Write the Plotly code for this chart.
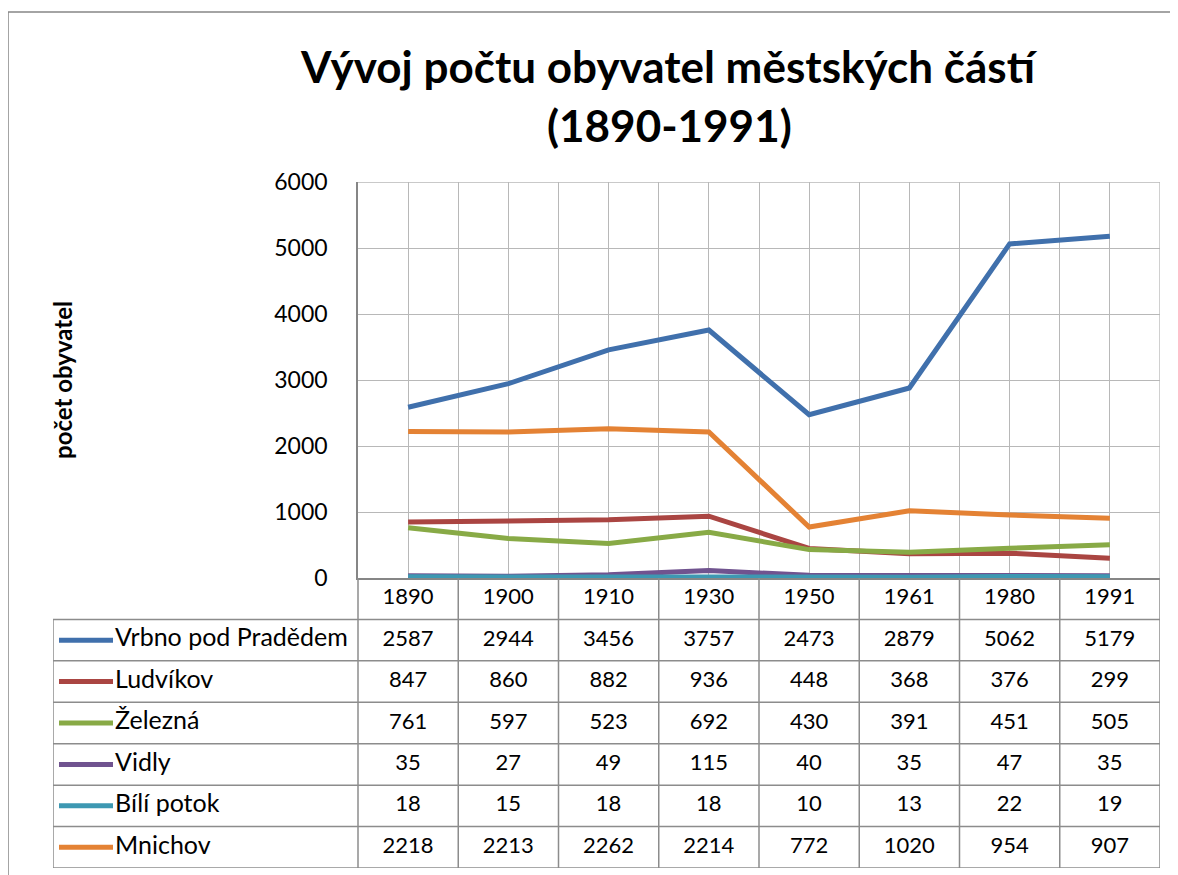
import plotly.graph_objects as go

# ---------------- data ----------------
years = ["1890", "1900", "1910", "1930", "1950", "1961", "1980", "1991"]
series_names = ["Vrbno pod Pradědem", "Ludvíkov", "Železná", "Vidly", "Bílí potok", "Mnichov"]
vrbno = [2587, 2944, 3456, 3757, 2473, 2879, 5062, 5179]
ludvikov = [847, 860, 882, 936, 448, 368, 376, 299]
zelezna = [761, 597, 523, 692, 430, 391, 451, 505]
vidly = [35, 27, 49, 115, 40, 35, 47, 35]
bili_potok = [18, 15, 18, 18, 10, 13, 22, 19]
mnichov = [2218, 2213, 2262, 2214, 772, 1020, 954, 907]
y_ticks = [0, 1000, 2000, 3000, 4000, 5000, 6000]

series_values = [vrbno, ludvikov, zelezna, vidly, bili_potok, mnichov]
colors = ["#4070AC", "#AA4542", "#88AA46", "#70538F", "#3D98B2", "#E48234"]

# ---------------- layout geometry (page pixels) ----------------
W, H = 1178, 875
OFF = 8  # page body margin
PLOT_L, PLOT_R, PLOT_T, PLOT_B = 358, 1160, 182, 578
TABLE_L, TABLE_B = 53, 868
FONT = "Lato"
GRID = "#B8B8B8"
AXIS = "#868686"
BORDER = "#8C8C8C"


def px(x):
    return (x - OFF) / W


def py(y):
    return 1 - (y - OFF) / H


n = len(years)
cat_w = (PLOT_R - PLOT_L) / n
x_idx = list(range(n))
table_left = -0.5 - (PLOT_L - TABLE_L) / cat_w
n_rows = len(series_names) + 1

fig = go.Figure()

# chart lines
for name, vals, col in zip(series_names, series_values, colors):
    fig.add_trace(go.Scatter(
        x=x_idx, y=vals, mode="lines", name=name,
        line=dict(color=col, width=5), xaxis="x", yaxis="y",
        showlegend=False, hoverinfo="skip"))

# plot-area top/right edges
fig.add_trace(go.Scatter(
    x=[-0.5, n - 0.5, n - 0.5], y=[6000, 6000, 0], mode="lines",
    line=dict(color=GRID, width=1.3), xaxis="x", yaxis="y",
    showlegend=False, hoverinfo="skip"))

# ---------------- data table ----------------
bx, by = [], []
for r in range(1, n_rows + 1):
    bx += [table_left, n - 0.5, None]
    by += [r, r, None]
bx += [table_left, table_left, None]
by += [1, n_rows, None]
for j in range(n + 1):
    bx += [-0.5 + j, -0.5 + j, None]
    by += [0, n_rows, None]
fig.add_trace(go.Scatter(
    x=bx, y=by, mode="lines", line=dict(color=BORDER, width=1.5),
    xaxis="x2", yaxis="y2", showlegend=False, hoverinfo="skip"))

# year header
fig.add_trace(go.Scatter(
    x=x_idx, y=[0.5] * n, text=years, mode="text",
    textfont=dict(family=FONT, size=22, color="black"),
    textposition="middle center", xaxis="x2", yaxis="y2",
    showlegend=False, hoverinfo="skip"))

key_x0 = table_left + (59 - TABLE_L) / cat_w
key_x1 = table_left + (113 - TABLE_L) / cat_w
for k, (name, vals, col) in enumerate(zip(series_names, series_values, colors)):
    yc = k + 1.5
    fig.add_trace(go.Scatter(
        x=[key_x0, key_x1], y=[yc, yc], mode="lines",
        line=dict(color=col, width=5), xaxis="x2", yaxis="y2",
        showlegend=False, hoverinfo="skip"))
    fig.add_trace(go.Scatter(
        x=[key_x1 + 0.02], y=[yc], text=[name], mode="text",
        textfont=dict(family=FONT, size=25, color="black"),
        textposition="middle right", xaxis="x2", yaxis="y2",
        showlegend=False, hoverinfo="skip"))
    fig.add_trace(go.Scatter(
        x=x_idx, y=[yc] * n, text=[str(v) for v in vals], mode="text",
        textfont=dict(family=FONT, size=22, color="black"),
        textposition="middle center", xaxis="x2", yaxis="y2",
        showlegend=False, hoverinfo="skip"))

fig.update_layout(
    width=W, height=H, autosize=False,
    margin=dict(l=0, r=0, t=0, b=0, pad=0, autoexpand=False),
    paper_bgcolor="white", plot_bgcolor="white",
    showlegend=False,
    xaxis=dict(domain=[px(PLOT_L), px(PLOT_R)], range=[-0.5, n - 0.5],
               tickmode="linear", tick0=-0.5, dtick=0.5,
               showgrid=True, gridcolor=GRID, gridwidth=1.3,
               showticklabels=False, zeroline=False, automargin=False,
               showline=True, linecolor=AXIS, linewidth=1.5, ticks=""),
    yaxis=dict(domain=[py(PLOT_B), py(PLOT_T)], range=[0, 6000],
               tickvals=y_ticks, ticktext=[str(t) for t in y_ticks],
               showgrid=True, gridcolor=GRID, gridwidth=1.3, automargin=False,
               zeroline=False, showline=True, linecolor=AXIS, linewidth=1.5,
               ticks="", ticklabelstandoff=24,
               tickfont=dict(family=FONT, size=23, color="black")),
    xaxis2=dict(domain=[px(TABLE_L), px(PLOT_R)], range=[table_left, n - 0.5],
                visible=False, anchor="y2", automargin=False),
    yaxis2=dict(domain=[py(TABLE_B), py(PLOT_B)], range=[n_rows, 0],
                visible=False, anchor="x2", automargin=False),
    annotations=[
        dict(text="<b>Vývoj počtu obyvatel městských částí</b>", x=px(669), y=py(66),
             xref="paper", yref="paper", xanchor="center", yanchor="middle",
             showarrow=False, font=dict(family=FONT, size=44, color="black")),
        dict(text="<b>(1890-1991)</b>", x=px(669), y=py(125),
             xref="paper", yref="paper", xanchor="center", yanchor="middle",
             showarrow=False, font=dict(family=FONT, size=44, color="black")),
        dict(text="<b>počet obyvatel</b>", x=px(62), y=py(380), textangle=-90,
             xref="paper", yref="paper", xanchor="center", yanchor="middle",
             showarrow=False, font=dict(family=FONT, size=24, color="black")),
    ],
    shapes=[
        dict(type="path", xref="paper", yref="paper",
             path=f"M {px(8)},{py(890)} L {px(8)},{py(12)} L {px(1190)},{py(12)}",
             line=dict(color=AXIS, width=1.5)),
    ],
)

fig.write_html("out.html")
